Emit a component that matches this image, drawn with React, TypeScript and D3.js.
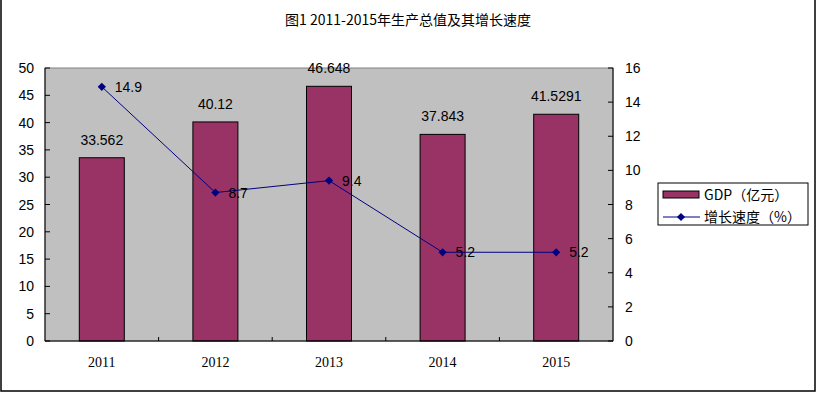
import React from 'react';
import * as d3 from 'd3';

const years = ['2011', '2012', '2013', '2014', '2015'];
const gdp = [33.562, 40.12, 46.648, 37.843, 41.5291];
const gdpLabels = ['33.562', '40.12', '46.648', '37.843', '41.5291'];
const growth = [14.9, 8.7, 9.4, 5.2, 5.2];
const growthLabels = ['14.9', '8.7', '9.4', '5.2', '5.2'];
const leftTicks = d3.range(0, 51, 5);
const rightTicks = d3.range(0, 17, 2);

const W = 816;
const H = 393;
const plot = { left: 45, right: 613, top: 68, bottom: 341 };
const sans = 'Liberation Sans, Arial, sans-serif';
const serif = 'Liberation Serif, DejaVu Serif, serif';
const cjk = '"Noto Sans CJK SC", sans-serif';

const App = () => {
  const x = d3.scaleBand().domain(years).range([plot.left, plot.right]).paddingInner(0).paddingOuter(0);
  const yL = d3.scaleLinear().domain([0, 50]).range([plot.bottom, plot.top]);
  const yR = d3.scaleLinear().domain([0, 16]).range([plot.bottom, plot.top]);
  const barW = 45;
  const cx = (d: string) => (x(d) as number) + x.bandwidth() / 2;

  const line = d3.line<number>()
    .x((d, i) => cx(years[i]))
    .y(d => yR(d));

  // square turned 45 degrees, like Excel's diamond marker
  const diamond = d3.symbol().type(d3.symbolSquare).size(34)();

  return (
    <svg width={W} height={H} style={{ position: 'absolute', left: 0, top: 0, background: '#fff' }}>
      {/* frame */}
      <rect x={1} y={-2} width={814} height={393} fill="#fff" stroke="#000" strokeWidth={1.5} />

      <text x={408} y={25} textAnchor="middle" fontFamily={cjk} fontSize={14}>
        图1 2011-2015年生产总值及其增长速度
      </text>

      <rect x={plot.left} y={plot.top} width={plot.right - plot.left} height={plot.bottom - plot.top}
        fill="#C0C0C0" stroke="#808080" strokeWidth={1} />

      {years.map((d, i) => (
        <g key={d}>
          <rect x={cx(d) - barW / 2} y={yL(gdp[i])} width={barW} height={plot.bottom - yL(gdp[i])}
            fill="#993366" stroke="#000" strokeWidth={1} />
          <text x={cx(d)} y={yL(gdp[i]) - 13} textAnchor="middle" fontFamily={sans} fontSize={14}>
            {gdpLabels[i]}
          </text>
          <text x={cx(d)} y={367} textAnchor="middle" fontFamily={serif} fontSize={14}>{d}</text>
        </g>
      ))}

      {/* axes */}
      <line x1={plot.left} x2={plot.left} y1={plot.top} y2={plot.bottom} stroke="#000" />
      <line x1={plot.right} x2={plot.right} y1={plot.top} y2={plot.bottom} stroke="#000" />
      <line x1={plot.left} x2={plot.right} y1={plot.bottom} y2={plot.bottom} stroke="#000" />

      {leftTicks.map(t => (
        <g key={'l' + t}>
          <line x1={plot.left} x2={plot.left + 5} y1={yL(t)} y2={yL(t)} stroke="#000" />
          <text x={34} y={yL(t) + 5} textAnchor="end" fontFamily={sans} fontSize={14}>{t}</text>
        </g>
      ))}
      {rightTicks.map(t => (
        <g key={'r' + t}>
          <line x1={plot.right - 5} x2={plot.right} y1={yR(t)} y2={yR(t)} stroke="#000" />
          <text x={625} y={yR(t) + 5} textAnchor="start" fontFamily={sans} fontSize={14}>{t}</text>
        </g>
      ))}
      {years.slice(1).map(d => (
        <line key={'x' + d} x1={x(d)} x2={x(d)} y1={plot.bottom - 4} y2={plot.bottom} stroke="#000" />
      ))}

      <path d={line(growth) as string} fill="none" stroke="#000080" strokeWidth={1} />
      {growth.map((g, i) => (
        <g key={'g' + i}>
          <path d={diamond as string} transform={`translate(${cx(years[i])},${yR(g)}) rotate(45)`} fill="#000080" />
          <text x={cx(years[i]) + 13} y={yR(g) + 5} fontFamily={sans} fontSize={14}>{growthLabels[i]}</text>
        </g>
      ))}

      {/* legend */}
      <rect x={658} y={183} width={150} height={42} fill="#fff" stroke="#000" />
      <rect x={663} y={191} width={36} height={7} fill="#993366" stroke="#000" />
      <text x={704} y={200} fontFamily={cjk} fontSize={14}>GDP（亿元）</text>
      <line x1={663} x2={700} y1={217} y2={217} stroke="#000080" />
      <path d={diamond as string} transform="translate(681,217) rotate(45)" fill="#000080" />
      <text x={704} y={222} fontFamily={cjk} fontSize={14}>增长速度（%）</text>
    </svg>
  );
};

export default App;
